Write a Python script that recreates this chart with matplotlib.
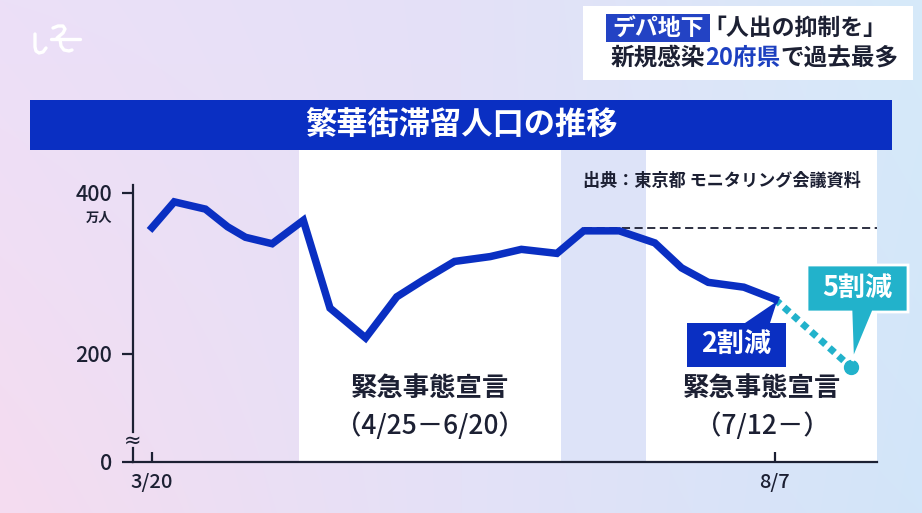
import matplotlib
matplotlib.use('Agg')
import matplotlib.pyplot as plt
import numpy as np
import pandas as pd
from matplotlib.patches import Rectangle, Polygon

plt.rcParams['font.family'] = ['Noto Sans CJK JP', 'DejaVu Sans']

# ---------------- data ----------------
YEAR = "2021/"
dates = ["3/20", "3/25", "4/1", "4/6", "4/10", "4/16", "4/23", "4/29", "5/7", "5/14",
         "5/20", "5/27", "6/4", "6/11", "6/19", "6/25", "7/3", "7/11", "7/17", "7/23",
         "7/31", "8/7"]
values = [357, 389, 380, 358, 345, 337, 366, 257, 220, 271,
          292, 315, 321, 330, 325, 353, 353, 338, 307, 289,
          283, 268]
proj_dates = ["8/7", "8/24"]
proj_values = [268, 184]
ref_start = "6/25"
ref_value = 357
emergency1 = ["4/22", "6/20"]
band = ["6/20", "7/9"]
emergency2_start = "7/9"
ytick_values = [400, 200]
ytick_labels = ["400", "200"]
xtick_dates = ["3/20", "8/7"]
xtick_labels = ["3/20", "8/7"]

start = pd.Timestamp(YEAR + dates[0])
def day(d):
    return (pd.Timestamp(YEAR + d) - start).days

xd = [day(d) for d in dates]
pxd = [day(d) for d in proj_dates]

DARK = '#1c2033'
BLUE = '#0a2fc2'
TEAL = '#22b2cb'

W, H = 922, 513
fig = plt.figure(figsize=(W / 100, H / 100), dpi=100)

# background axes in pixel coordinates
bg = fig.add_axes([0, 0, 1, 1])
bg.set_xlim(0, W)
bg.set_ylim(H, 0)
bg.axis('off')
bg.set_zorder(1)

xs = np.linspace(0, 1, W)[None, :, None]
ys = np.linspace(0, 1, H)[:, None, None]
c_left_top = np.array([236, 224, 248]) / 255
c_left_bot = np.array([245, 220, 240]) / 255
c_mid = np.array([228, 225, 247]) / 255
c_right_top = np.array([214, 234, 250]) / 255
c_right_bot = np.array([210, 229, 249]) / 255
left = c_left_top * (1 - ys) + c_left_bot * ys
right = c_right_top * (1 - ys) + c_right_bot * ys
img = np.where(xs < 0.5, left * (1 - xs * 2) + c_mid * (xs * 2),
               c_mid * (1 - (xs - 0.5) * 2) + right * ((xs - 0.5) * 2))
bg.imshow(img, extent=(0, W, H, 0), aspect='auto', zorder=0)

# logo (approximation)
lw_logo = 2.4
bg.plot([35, 35, 36, 39, 43, 46], [34, 47, 51, 53, 52, 48], color='white', lw=lw_logo, solid_capstyle='round')
bg.plot([53, 58, 63, 65, 63, 57], [28, 26, 26, 29, 33, 38], color='white', lw=lw_logo, solid_capstyle='round')
bg.plot([51, 80], [39, 39], color='white', lw=lw_logo, solid_capstyle='round')
bg.plot([60, 61, 64, 69, 72], [39, 46, 50, 51, 50], color='white', lw=lw_logo, solid_capstyle='round')

# banner
bg.add_patch(Rectangle((30, 100), 862, 50, facecolor=BLUE, edgecolor='none', zorder=2))
bg.text(461, 126, "繁華街滞留人口の推移", color='white', fontsize=22.5, fontweight='bold',
        ha='center', va='center', zorder=3)

# ---------------- chart axes ----------------
AX_L, AX_R, AX_T, AX_B = 133, 877, 185, 462
ax = fig.add_axes([AX_L / W, (H - AX_B) / H, (AX_R - AX_L) / W, (AX_B - AX_T) / H])
ax.set_zorder(3)
ax.patch.set_alpha(0)
px_per_day = 4.45
x0 = -(152 - AX_L) / px_per_day
x1 = (AX_R - 152) / px_per_day
px_per_unit = 0.805
y_top = 200 + (354 - AX_T) / px_per_unit
y_bot = 200 - (AX_B - 354) / px_per_unit
ax.set_xlim(x0, x1)
ax.set_ylim(y_bot, y_top)

ext = (AX_B - 150) / (AX_B - AX_T)
ax.axvspan(day(emergency1[0]), day(emergency1[1]), ymin=0, ymax=ext, color='white', clip_on=False, zorder=0, lw=0)
ax.axvspan(day(band[0]), day(band[1]), ymin=0, ymax=ext, color='#dde3f8', clip_on=False, zorder=0, lw=0)
ax.axvspan(day(emergency2_start), x1, ymin=0, ymax=ext, color='white', clip_on=False, zorder=0, lw=0)

# reference dashed line
ax.plot([day(ref_start), x1], [ref_value, ref_value], color=DARK, lw=1.3,
        linestyle=(0, (4.5, 2.5)), zorder=2)

# projection dotted line
ax.plot(pxd, proj_values, color=TEAL, lw=5, linestyle=(0, (1, 0.75)),
        dash_capstyle='butt', zorder=3)
ax.plot(pxd[-1:], proj_values[-1:], 'o', color=TEAL, ms=10, zorder=4)

# main line
ax.plot(xd, values, color=BLUE, lw=5.4, solid_joinstyle='miter', zorder=5)

# axes styling
for s in ['top', 'right', 'left']:
    ax.spines[s].set_visible(False)
ax.spines['bottom'].set_color(DARK)
ax.spines['bottom'].set_linewidth(1.6)
ax.plot([0, 0], [0, (AX_B - 448) / (AX_B - AX_T)], transform=ax.transAxes, color=DARK, lw=1.6, clip_on=False)
ax.plot([0, 0], [(AX_B - 432) / (AX_B - AX_T), 1], transform=ax.transAxes, color=DARK, lw=1.6, clip_on=False)

ax.set_yticks([y_bot] + ytick_values)
ax.set_yticklabels(["0"] + ytick_labels)
ax.tick_params(axis='y', direction='out', length=8, width=1.6, color=DARK, pad=7,
               labelsize=15.5, labelcolor=DARK)
ax.set_xticks([day(d) for d in xtick_dates])
ax.set_xticklabels(xtick_labels)
ax.tick_params(axis='x', direction='in', length=7.5, width=1.6, color=DARK, pad=8,
               labelsize=14.5, labelcolor=DARK)
for lab in ax.get_yticklabels() + ax.get_xticklabels():
    lab.set_fontweight('medium')

# ---------------- overlay axes (pixel coords, on top) ----------------
ov = fig.add_axes([0, 0, 1, 1])
ov.set_xlim(0, W)
ov.set_ylim(H, 0)
ov.axis('off')
ov.patch.set_alpha(0)
ov.set_zorder(10)

# title box top right
ov.add_patch(Rectangle((583, 6), 330, 74, facecolor='white', edgecolor='none', zorder=2))
ov.add_patch(Rectangle((606, 14), 104, 28, facecolor='#2343c4', edgecolor='none', zorder=3))
ov.text(658, 28.5, "デパ地下", color='white', fontsize=16.5, fontweight='bold', ha='center', va='center', zorder=4)
ov.text(703, 28.5, "「人出の抑制を」", color=DARK, fontsize=16.5, fontweight='bold', ha='left', va='center', zorder=4)

renderer = fig.canvas.get_renderer()
pieces = [("新規感染", DARK), ("20府県", '#1d40c0'), ("で過去最多", DARK)]
xcur = 611
inv = ov.transData.inverted()
for txt, col in pieces:
    t = ov.text(xcur, 58, txt, color=col, fontsize=17, fontweight='bold', ha='left', va='center', zorder=4)
    bb = t.get_window_extent(renderer=renderer)
    xcur = inv.transform((bb.x1, bb.y0))[0]

ov.text(583, 181, "出典：東京都 モニタリング会議資料", color=DARK, fontsize=12.3, fontweight='bold',
        ha='left', va='center', zorder=5)
ov.text(112, 218, "万人", color=DARK, fontsize=9.5, fontweight='bold', ha='right', va='center', zorder=5)
ov.text(133, 441, "≈", color=DARK, fontsize=15, ha='center', va='center', zorder=5, family='DejaVu Sans')

# labels of emergency periods
ov.text(430, 388, "緊急事態宣言", color=DARK, fontsize=19, fontweight='bold', ha='center', va='center', zorder=5)
ov.text(430, 426, "（4/25－6/20）", color=DARK, fontsize=19, fontweight='medium', ha='center', va='center', zorder=5)
ov.text(762, 389, "緊急事態宣言", color=DARK, fontsize=19, fontweight='bold', ha='center', va='center', zorder=5)
ov.text(762, 426, "（7/12－）", color=DARK, fontsize=19, fontweight='medium', ha='center', va='center', zorder=5)

# callouts
def d2p(x, y):
    disp = ax.transData.transform((x, y))
    return ov.transData.inverted().transform(disp)

tip1 = d2p(xd[-1], values[-1])
poly1 = Polygon([(687, 323), (745, 323), (tip1[0] + 2, tip1[1] + 2), (770, 323), (786, 323),
                 (786, 367), (687, 367)], closed=True, facecolor=BLUE, edgecolor='none', zorder=6)
ov.add_patch(poly1)
ov.text(736.5, 345, "2割減", color='white', fontsize=19.5, fontweight='bold', ha='center', va='center', zorder=7)

tip2 = d2p(pxd[-1], proj_values[-1])
poly2 = Polygon([(807, 265), (908, 265), (908, 312), (873, 312), (tip2[0] + 2, tip2[1] - 6),
                 (851, 312), (807, 312)], closed=True, facecolor=TEAL, edgecolor='white', lw=2, zorder=6)
ov.add_patch(poly2)
ov.text(857.5, 289, "5割減", color='white', fontsize=19.5, fontweight='bold', ha='center', va='center', zorder=7)

fig.savefig('out.png', dpi=100)
